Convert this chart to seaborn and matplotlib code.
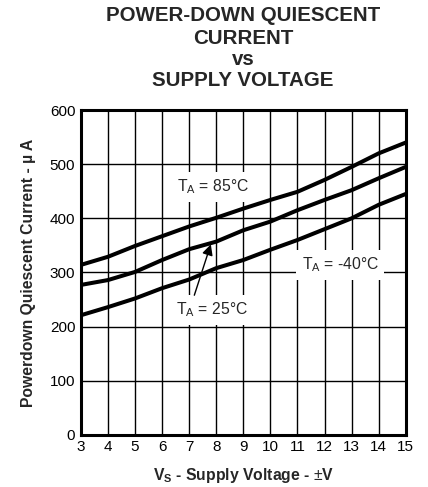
import matplotlib
matplotlib.use("Agg")
import matplotlib.pyplot as plt
import seaborn as sns
import pandas as pd

# Supply voltage (±V) and quiescent current (µA) for each ambient temperature
supply_v = [3, 4, 5, 6, 7, 8, 9, 10, 11, 12, 13, 14, 15]
i_85c = [314, 329, 349, 367, 385, 401, 418, 434, 449, 471, 495, 520, 540]
i_25c = [277, 286, 301, 323, 343, 357, 378, 394, 415, 434, 452, 474, 495]
i_m40c = [221, 236, 252, 271, 287, 308, 323, 342, 360, 380, 400, 425, 445]

x_ticks = list(range(3, 16))
y_ticks = [0, 100, 200, 300, 400, 500, 600]

sns.set_theme(style="white")
plt.rcParams["font.family"] = ["Liberation Sans", "DejaVu Sans"]
plt.rcParams["mathtext.fontset"] = "custom"
plt.rcParams["mathtext.rm"] = "Liberation Sans"
plt.rcParams["mathtext.bf"] = "Liberation Sans:bold"
plt.rcParams["mathtext.default"] = "regular"

frames = []
for name, vals in [("85", i_85c), ("25", i_25c), ("-40", i_m40c)]:
    frames.append(pd.DataFrame({"V": supply_v, "I": vals, "T": name}))
df = pd.concat(frames, ignore_index=True)

fig = plt.figure(figsize=(4.28, 4.87), dpi=100)
ax = fig.add_axes([0.189, 0.107, 0.759, 0.667])

for x in x_ticks:
    ax.axvline(x, color="black", lw=1.0, zorder=1)
for y in y_ticks:
    ax.axhline(y, color="black", lw=1.0, zorder=1)

sns.lineplot(data=df, x="V", y="I", units="T", estimator=None,
             color="black", lw=2.9, ax=ax, zorder=3, legend=False)

ax.set_xlim(3, 15)
ax.set_ylim(0, 600)
ax.set_xticks(x_ticks)
ax.set_yticks(y_ticks)
ax.tick_params(axis="both", labelsize=11, length=0, pad=4, colors="black")
for s in ax.spines.values():
    s.set_linewidth(2.2)
    s.set_color("black")
    s.set_zorder(5)

ax.set_xlabel(r"$\mathbf{V_S}$ - Supply Voltage - $\mathrm{\pm}$V",
              fontsize=11.3, fontweight="bold", labelpad=8)
ax.set_ylabel("Powerdown Quiescent Current - µ A", fontsize=11.3,
              fontweight="bold", labelpad=10)

box = dict(facecolor="white", edgecolor="none", pad=4)
ax.text(7.88, 458, r"T$_A$ = 85°C", ha="center", va="center",
        fontsize=11.3, bbox=box, zorder=4)
ax.text(12.58, 314, r"T$_A$ = -40°C", ha="center", va="center",
        fontsize=11.3, bbox=box, zorder=4)
ax.text(7.85, 231, r"T$_A$ = 25°C", ha="center", va="center",
        fontsize=11.3, bbox=box, zorder=4)
ax.annotate("", xy=(7.8, 352), xytext=(7.19, 258),
            arrowprops=dict(arrowstyle="-|>", color="black", lw=1.0,
                            mutation_scale=16, shrinkA=0, shrinkB=0),
            zorder=4)

# Title lines placed by baseline (pixels from the top of the figure)
title_lines = [("POWER-DOWN QUIESCENT", 20.7), ("CURRENT", 44),
               ("vs", 65), ("SUPPLY VOLTAGE", 86)]
for txt, ypx in title_lines:
    fig.text(243 / 428, 1 - ypx / 487, txt, ha="center", va="baseline",
             fontsize=14.8, fontweight="bold")

fig.savefig("out.png", dpi=100)
